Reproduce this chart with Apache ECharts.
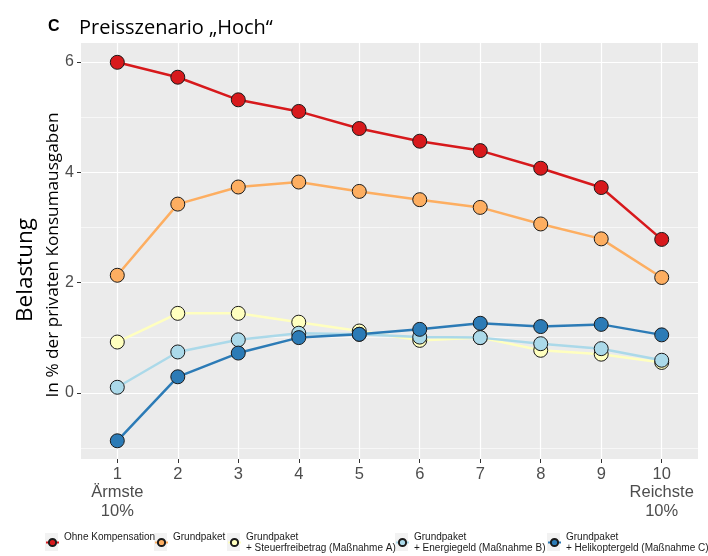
<!DOCTYPE html>
<html>
<head>
<meta charset="utf-8">
<script src="https://cdn.jsdelivr.net/npm/echarts@6/dist/echarts.min.js"></script>
<style>
  html, body { margin: 0; padding: 0; background: #fff; }
  #chart { width: 708px; height: 556px; }
</style>
</head>
<body>
<div id="chart"></div>
<script>
// Dezile (1 = Ärmste 10%, 10 = Reichste 10%)
var deciles = [1, 2, 3, 4, 5, 6, 7, 8, 9, 10];
var yTicks = [0, 2, 4, 6];
var yMinorTicks = [-1, 1, 3, 5];

// Belastung in % der privaten Konsumausgaben
var ohneKompensation = [5.99, 5.72, 5.31, 5.10, 4.79, 4.56, 4.39, 4.07, 3.72, 2.78];
var grundpaket = [2.13, 3.42, 3.73, 3.82, 3.65, 3.50, 3.36, 3.06, 2.79, 2.09];
var steuerfreibetrag = [0.92, 1.44, 1.44, 1.28, 1.12, 0.95, 1.00, 0.77, 0.70, 0.55];
var energiegeld = [0.10, 0.74, 0.96, 1.08, 1.06, 1.01, 1.00, 0.89, 0.80, 0.59];
var helikoptergeld = [-0.87, 0.29, 0.72, 1.00, 1.06, 1.15, 1.26, 1.20, 1.24, 1.05];

var seriesNames = [
    'Ohne Kompensation',
    'Grundpaket',
    'Grundpaket\n+ Steuerfreibetrag (Maßnahme A)',
    'Grundpaket\n+ Energiegeld (Maßnahme B)',
    'Grundpaket\n+ Helikoptergeld (Maßnahme C)'
];
var seriesValues = [ohneKompensation, grundpaket, steuerfreibetrag, energiegeld, helikoptergeld];
var seriesColors = ['#D7191C', '#FDAE61', '#FFFFBF', '#ABD9E9', '#2C7BB6'];

var legendLeft = [45, 154, 227, 395, 547];

var labelColor = '#4D4D4D';
var numFont = '"Liberation Sans", Arial, sans-serif';

function pairs(vals) {
    return vals.map(function(v, i) { return [deciles[i], v]; });
}

var chart = echarts.init(document.getElementById('chart'));

var series = seriesValues.map(function(vals, i) {
    return {
        name: seriesNames[i],
        type: 'line',
        data: pairs(vals),
        symbol: 'circle',
        symbolSize: 14,
        lineStyle: { color: seriesColors[i], width: 2.5 },
        itemStyle: { color: seriesColors[i], borderColor: '#1a1a1a', borderWidth: 1 },
        emphasis: { disabled: true },
        z: 3 + i
    };
});

var legends = seriesNames.map(function(name, i) {
    return {
        data: [name],
        left: legendLeft[i],
        top: 531,
        padding: 0,
        orient: 'horizontal',
        itemWidth: 13,
        itemHeight: 9,
        itemGap: 0,
        selectedMode: false,
        formatter: function(n) { return n.indexOf('\n') < 0 ? n + '\n ' : n; },
        textStyle: { fontFamily: numFont, fontSize: 10, color: '#1a1a1a', lineHeight: 11.5 }
    };
});

var keyBoxes = legendLeft.map(function(x) {
    return { type: 'rect', left: x, top: 533, shape: { width: 13, height: 18 }, style: { fill: '#F2F2F2' }, z: -1 };
});

chart.setOption({
    animation: false,
    backgroundColor: '#ffffff',
    grid: { left: 81, right: 10, top: 43, bottom: 97, backgroundColor: '#EBEBEB', show: true, borderWidth: 0 },
    xAxis: {
        type: 'value',
        min: 0.4,
        max: 10.6,
        axisLine: { show: false, onZero: false },
        axisTick: { show: true, length: 4, lineStyle: { color: '#333' }, customValues: deciles },
        axisLabel: {
            customValues: deciles,
            margin: 6,
            color: labelColor,
            fontFamily: numFont,
            fontSize: 16.5,
            lineHeight: 18.5,
            formatter: function(v) {
                if (v === 1) return '1\nÄrmste\n10%';
                if (v === 10) return '10\nReichste\n10%';
                return String(v);
            }
        },
        splitLine: { show: true, lineStyle: { color: '#ffffff', width: 1.2 } }
    },
    yAxis: [{
        type: 'value',
        min: -1.2,
        max: 6.34,
        axisLine: { show: false, onZero: false },
        axisTick: { show: true, length: 4, lineStyle: { color: '#333' }, customValues: yTicks },
        axisLabel: { customValues: yTicks, margin: 7, color: labelColor, fontFamily: numFont, fontSize: 16 },
        splitLine: { show: true, lineStyle: { color: '#ffffff', width: 1.2 } }
    }, {
        type: 'value',
        min: -1.2,
        max: 6.34,
        axisLine: { show: false, onZero: false },
        axisTick: { show: false, customValues: yMinorTicks },
        axisLabel: { show: false, customValues: yMinorTicks },
        splitLine: { show: true, lineStyle: { color: '#ffffff', width: 0.6 } }
    }],
    legend: legends,
    graphic: keyBoxes.concat([
        { type: 'text', left: 48, top: 19, style: { text: 'C', font: 'bold 16px "Liberation Sans", Arial, sans-serif', fill: '#000' } },
        { type: 'text', left: 79, top: 18, style: { text: 'Preisszenario „Hoch“', font: '20px "Open Sans", sans-serif', fill: '#000' } },
        { type: 'text', x: 26, y: 270, rotation: Math.PI / 2, style: { text: 'Belastung', font: '22.5px "Open Sans", sans-serif', fill: '#000', align: 'center', verticalAlign: 'middle' } },
        { type: 'text', x: 53, y: 255, rotation: Math.PI / 2, style: { text: 'In % der privaten Konsumausgaben', font: '17.2px "Open Sans", sans-serif', fill: '#000', align: 'center', verticalAlign: 'middle' } }
    ]),
    series: series
});
</script>
</body>
</html>
